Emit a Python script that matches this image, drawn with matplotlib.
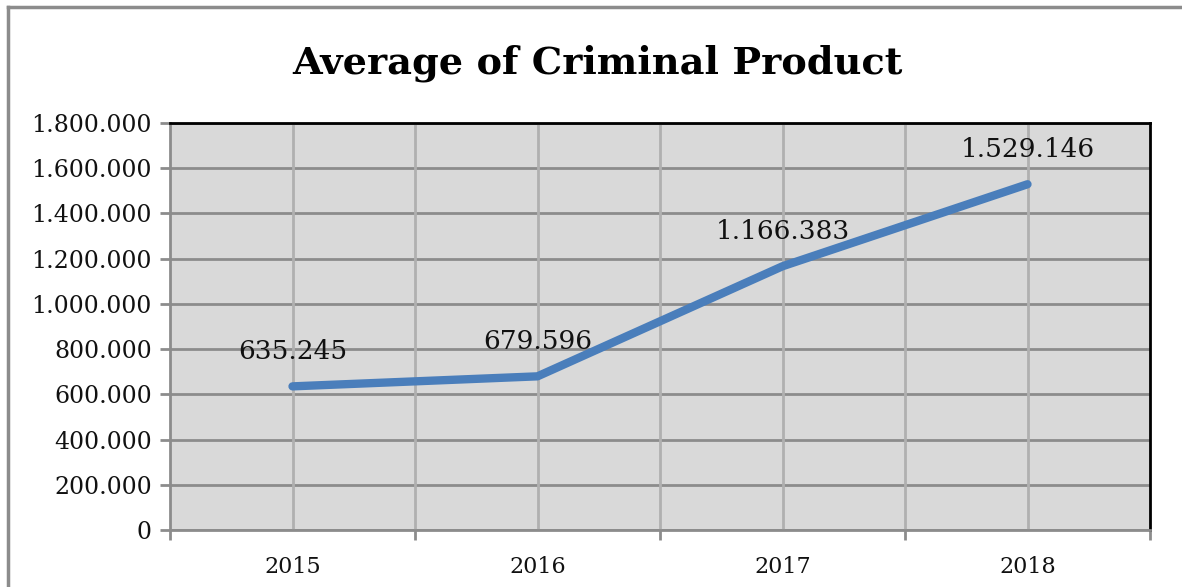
import matplotlib.pyplot as plt
from matplotlib.lines import Line2D
from matplotlib.ticker import FuncFormatter, MultipleLocator

years = ['2015', '2016', '2017', '2018']
values = [635245, 679596, 1166383, 1529146]
labels = ['635.245', '679.596', '1.166.383', '1.529.146']

SERIF = ['DejaVu Serif']
C_LINE = '#4a7ebb'
C_BKGD = '#d9d9d9'


def dotted_thousands(v, pos):
  return '{:,.0f}'.format(v).replace(',', '.')


fig = plt.figure(figsize=(11.82, 5.87), dpi=100)
ax = fig.add_axes([170 / 1182, 1 - 530 / 587, 980 / 1182, 407 / 587])
ax.set_facecolor(C_BKGD)

x = list(range(len(years)))
ax.plot(x, values, color=C_LINE, lw=6, solid_capstyle='round', zorder=3)

for xi, v, lab in zip(x, values, labels):
  ax.annotate(lab, (xi, v), xytext=(0, 25), textcoords='offset points',
              ha='center', va='center', fontsize=19, family=SERIF, color='#111111')

ax.set_xlim(-0.5, len(years) - 0.5)
ax.set_ylim(0, 1800000)
ax.yaxis.set_major_locator(MultipleLocator(200000))
ax.yaxis.set_major_formatter(FuncFormatter(dotted_thousands))

# vertical grid at category centres and boundaries
for xi in x:
  ax.axvline(xi, color='#b0b0b0', lw=2, zorder=1)
for xb in [i + 0.5 for i in x[:-1]]:
  ax.axvline(xb, color='#b0b0b0', lw=2, zorder=1)
ax.yaxis.grid(True, color='#8c8c8c', lw=2, zorder=1)
ax.set_axisbelow(True)

ax.set_xticks(x)
ax.set_xticklabels(years)
ax.set_xticks([i - 0.5 for i in range(len(years) + 1)], minor=True)
ax.tick_params(axis='x', which='major', length=0, pad=19, labelsize=16, labelcolor='#111111')
ax.tick_params(axis='x', which='minor', length=7, width=2, color='#8c8c8c', direction='out')
ax.tick_params(axis='y', length=7, width=2, color='#8c8c8c', direction='out', pad=6,
               labelsize=17, labelcolor='#111111')
for t in ax.get_xticklabels() + ax.get_yticklabels():
  t.set_family(SERIF)

ax.spines['left'].set_color('#8c8c8c')
ax.spines['bottom'].set_color('#8c8c8c')
ax.spines['left'].set_linewidth(2)
ax.spines['bottom'].set_linewidth(2)
ax.spines['top'].set_color('black')
ax.spines['right'].set_color('black')
ax.spines['top'].set_linewidth(2)
ax.spines['right'].set_linewidth(2)

fig.text(597 / 1182, 1 - 63 / 587, 'Average of Criminal Product', ha='center', va='center',
         fontsize=27.5, fontweight='bold', family=SERIF)

# outer chart border (only top and left visible in the crop)
fig.add_artist(Line2D([8 / 1182, 1], [1 - 7 / 587, 1 - 7 / 587], color='#8c8c8c', lw=2.5,
                      transform=fig.transFigure))
fig.add_artist(Line2D([8 / 1182, 8 / 1182], [0, 1 - 7 / 587], color='#8c8c8c', lw=2.5,
                      transform=fig.transFigure))

fig.savefig('out.png', dpi=100)
